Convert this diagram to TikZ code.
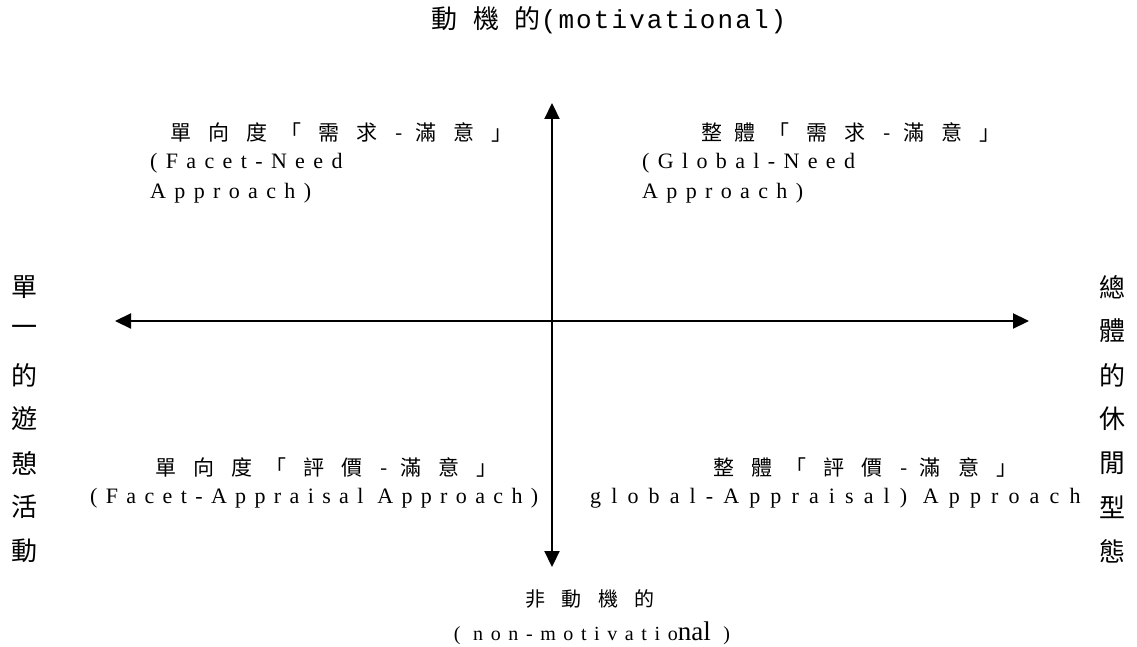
\documentclass[tikz,border=0pt]{standalone}
\usepackage{fontspec}
\usetikzlibrary{arrows.meta}
\setmainfont{Liberation Serif}[LetterSpace=38]
\newfontfamily\wide{Liberation Serif}[LetterSpace=46]
\newfontfamily\tight{Liberation Serif}
\newfontfamily\cjk{Noto Sans CJK TC}[LetterSpace=60]
\newfontfamily\mono{Liberation Mono}[LetterSpace=8]

\tikzset{
	axis/.style={line width=2.2pt, {Triangle[width=15pt,length=16pt]}-{Triangle[width=15pt,length=16pt]}},
	zh/.style={inner sep=0pt, anchor=west, font=\cjk\fontsize{21}{25}\selectfont},
	en/.style={inner sep=0pt, anchor=base west, font=\fontsize{22}{26}\selectfont},
	side/.style={inner sep=0pt, font=\cjk\fontsize{26}{30}\selectfont}
}

\begin{document}
\begin{tikzpicture}[x=1pt, y=-1pt]
	\useasboundingbox (0,0) rectangle (1137,647);
	% axes
	\coordinate (top) at (552,103);
	\coordinate (bot) at (552,567);
	\coordinate (lft) at (115,321);
	\coordinate (rgt) at (1029,321);
	\draw [axis] (top) -- (bot);
	\draw [axis] (lft) -- (rgt);

	% axis labels
	\node [inner sep=0pt, font=\fontsize{26}{30}\selectfont] (motiv) at (609,20) {{\cjk 動機的}{\mono (motivational)}};
	\node [zh, anchor=center, font=\cjk\fontsize{20}{24}\selectfont] (nonmotiv) at (590,599) {非 動 機 的};
	\node [en, anchor=base, font=\fontsize{20}{24}\selectfont] (nonmotiven) at (592,640) {( non-motivatio{\tight\fontsize{27}{30}\selectfont nal} )};
	\foreach \c [count=\i] in {單,一,的,遊,憩,活,動}
		\node [side] (left\i) at (25,{287+44*(\i-1)}) {\c};
	\foreach \c [count=\i] in {總,體,的,休,閒,型,態}
		\node [side] (right\i) at (1112,{287+44*(\i-1)}) {\c};

	% quadrants
	\node [zh] (fnzh) at (170,132) {單 向 度「 需 求 -滿 意 」};
	\node [en] (fnen) at (150,169) {(Facet-Need};
	\node [en] (fnap) at (150,199) {Approach)};
	\node [zh] (gnzh) at (701,132) {整體「 需 求 -滿 意 」};
	\node [en] (gnen) at (642,169) {(Global-Need};
	\node [en] (gnap) at (642,199) {Approach)};
	\node [zh] (fazh) at (155,467) {單 向 度「 評 價 -滿 意 」};
	\node [en] (faen) at (90,503) {(Facet-Appraisal Approach)};
	\node [zh] (gazh) at (713,467) {整 體「 評 價 -滿 意 」};
	\node [en, font=\wide\fontsize{22}{26}\selectfont] (gaen) at (590,503) {global-Appraisal) Approach};
\end{tikzpicture}
\end{document}
